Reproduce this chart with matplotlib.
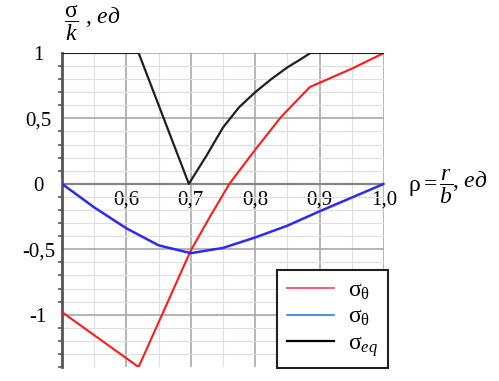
import matplotlib
matplotlib.use('Agg')
import matplotlib.pyplot as plt
from matplotlib.ticker import MultipleLocator
from matplotlib.lines import Line2D

plt.rcParams['font.family'] = 'serif'
plt.rcParams['font.serif'] = ['Liberation Serif']
plt.rcParams['mathtext.fontset'] = 'custom'
plt.rcParams['mathtext.rm'] = 'Liberation Serif'
plt.rcParams['mathtext.it'] = 'Liberation Serif:italic'
plt.rcParams['mathtext.bf'] = 'Liberation Serif:bold'

# sigma_theta (red)
rho_red = [0.5, 0.619, 0.65, 0.7, 0.73, 0.76, 0.8, 0.84, 0.885, 0.95, 1.0]
sig_red = [-0.98, -1.40, -1.06, -0.51, -0.25, 0.0, 0.26, 0.51, 0.74, 0.88, 1.0]

# sigma_theta (blue)
rho_blue = [0.5, 0.55, 0.6, 0.65, 0.7, 0.75, 0.8, 0.85, 0.9, 0.95, 1.0]
sig_blue = [0.0, -0.18, -0.34, -0.47, -0.53, -0.49, -0.41, -0.32, -0.21, -0.105, 0.0]

# sigma_eq (black)
rho_eq = [0.5, 0.619, 0.697, 0.725, 0.75, 0.775, 0.8, 0.825, 0.85, 0.87, 0.886, 1.0]
sig_eq = [1.0, 1.0, 0.0, 0.22, 0.43, 0.585, 0.70, 0.80, 0.89, 0.95, 1.0, 1.0]

x_ticks = [0.6, 0.7, 0.8, 0.9, 1.0]
x_labels = ['0,6', '0,7', '0,8', '0,9', '1,0']
y_ticks = [-1.0, -0.5, 0.0, 0.5, 1.0]
y_labels = ['-1', '-0,5', '0', '0,5', '1']

fig = plt.figure(figsize=(4.99, 3.81), dpi=100)
ax = fig.add_axes([0.1242, 0.0367, 0.6453, 0.8243])

ax.plot(rho_red, sig_red, color='#ff1a1a', lw=1.5, zorder=3)
ax.plot(rho_blue, sig_blue, color='#2b2bf0', lw=1.8, zorder=3)
ax.plot(rho_eq, sig_eq, color='#202020', lw=1.6, zorder=4)

ax.set_xlim(0.5, 1.0)
ax.set_ylim(-1.4, 1.0)

ax.set_xticks(x_ticks, x_labels)
ax.xaxis.set_minor_locator(MultipleLocator(0.05))
ax.set_yticks(y_ticks, y_labels)
ax.yaxis.set_minor_locator(MultipleLocator(0.1))

ax.grid(which='major', color='#a8a8a8', lw=1.2, zorder=0)
ax.grid(which='minor', color='#dedede', lw=0.8, zorder=0)
ax.set_axisbelow(True)

for s in ['top', 'right']:
    ax.spines[s].set_visible(False)
ax.spines['bottom'].set_position(('data', 0))
ax.spines['bottom'].set_color('#858585')
ax.spines['bottom'].set_linewidth(1.6)
ax.spines['left'].set_color('#555555')
ax.spines['left'].set_linewidth(2.0)

ax.tick_params(axis='x', which='major', length=0, pad=5, labelsize=15)
ax.tick_params(axis='x', which='minor', length=0)
ax.tick_params(axis='y', which='major', length=0, pad=17, labelsize=15)
ax.tick_params(axis='y', which='minor', length=3, width=1.2, color='#555555', direction='out')
for t in ax.yaxis.get_major_ticks():
    t.label1.set_horizontalalignment('center')

fig.text(0.128, 0.94, r'$\dfrac{\mathrm{\sigma}}{k}$', fontsize=17, va='center', ha='left')
fig.text(0.17, 0.955, r', $\mathit{ед}$', fontsize=17, va='center', ha='left')
fig.text(0.818, 0.51, r'$\mathrm{\rho} = \dfrac{r}{b}$', fontsize=17, va='center', ha='left')
fig.text(0.905, 0.525, r', $\mathit{ед}$', fontsize=17, va='center', ha='left')

handles = [Line2D([], [], color='#ff4050', lw=1.2),
           Line2D([], [], color='#2080e0', lw=1.2),
           Line2D([], [], color='black', lw=1.6)]
labels = [r'$\mathrm{\sigma}_{\mathrm{\theta}}$', r'$\mathrm{\sigma}_{\mathrm{\theta}}$', r'$\mathrm{\sigma}_{eq}$']
leg = ax.legend(handles, labels, loc='lower right', bbox_to_anchor=(1.012, -0.004),
                fontsize=17, frameon=True, fancybox=False, framealpha=1,
                edgecolor='#202020', handlelength=2.0, handletextpad=0.6,
                borderpad=0.4, labelspacing=0.2, borderaxespad=0)
leg.get_frame().set_linewidth(1.5)

fig.savefig('out.png', dpi=100)
